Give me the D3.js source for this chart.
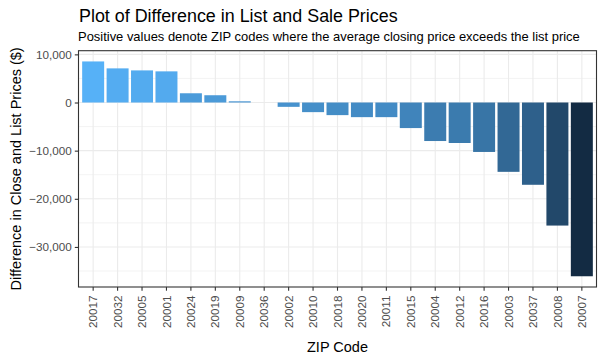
<!DOCTYPE html>
<html>
<head>
<meta charset="utf-8">
<script src="https://cdn.jsdelivr.net/npm/d3@7"></script>
<style>
body { margin: 0; background: #fff; }
svg { display: block; font-family: "Liberation Sans", Arial, sans-serif; }
</style>
</head>
<body>
<svg id="chart" width="604" height="357"></svg>
<script>
const zipCodes = ["20017","20032","20005","20001","20024","20019","20009","20036","20002","20010","20018","20020","20011","20015","20004","20012","20016","20003","20037","20008","20007"];
const priceDiff = [8530, 7090, 6670, 6470, 1920, 1510, 250, 0, -900, -2000, -2620, -3040, -3040, -5310, -8000, -8410, -10270, -14400, -17090, -25560, -36090];
const yMajorTicks = [10000, 0, -10000, -20000, -30000];
const yMinorTicks = [5000, -5000, -15000, -25000, -35000];
const titleText = "Plot of Difference in List and Sale Prices";
const subtitleText = "Positive values denote ZIP codes where the average closing price exceeds the list price";
const xTitle = "ZIP Code";
const yTitle = "Difference in Close and List Prices ($)";

const svg = d3.select("#chart");
const panel = {left: 78.5, right: 596.5, top: 50.7, bottom: 287};

const x = d3.scaleBand().domain(zipCodes)
  .range([panel.left, panel.right]).paddingInner(0.1).paddingOuter(0.15);

const minV = Math.min(0, d3.min(priceDiff)), maxV = Math.max(0, d3.max(priceDiff));
const pad = (maxV - minV) * 0.05;
const y = d3.scaleLinear().domain([minV - pad, maxV + pad]).range([panel.bottom, panel.top]);

const color = d3.scaleLinear().domain([d3.min(priceDiff), d3.max(priceDiff)])
  .range(["#132B43", "#56B1F7"]).interpolate(d3.interpolateLab);

// grid
const grid = svg.append("g");
grid.selectAll("line.ymin").data(yMinorTicks).join("line")
  .attr("x1", panel.left).attr("x2", panel.right)
  .attr("y1", d => y(d)).attr("y2", d => y(d))
  .attr("stroke", "#EBEBEB").attr("stroke-width", 0.6);
grid.selectAll("line.ymaj").data(yMajorTicks).join("line")
  .attr("x1", panel.left).attr("x2", panel.right)
  .attr("y1", d => y(d)).attr("y2", d => y(d))
  .attr("stroke", "#EBEBEB").attr("stroke-width", 1.1);
grid.selectAll("line.xmaj").data(zipCodes).join("line")
  .attr("y1", panel.top).attr("y2", panel.bottom)
  .attr("x1", d => x(d) + x.bandwidth() / 2).attr("x2", d => x(d) + x.bandwidth() / 2)
  .attr("stroke", "#EBEBEB").attr("stroke-width", 1.1);

// bars
svg.append("g").selectAll("rect").data(zipCodes).join("rect")
  .attr("x", d => x(d))
  .attr("width", x.bandwidth())
  .attr("y", (d, i) => y(Math.max(0, priceDiff[i])))
  .attr("height", (d, i) => Math.abs(y(priceDiff[i]) - y(0)))
  .attr("fill", (d, i) => color(priceDiff[i]));

// panel border
svg.append("rect").attr("x", panel.left).attr("y", panel.top)
  .attr("width", panel.right - panel.left).attr("height", panel.bottom - panel.top)
  .attr("fill", "none").attr("stroke", "#333333").attr("stroke-width", 1.1);

// y axis
const yAxis = d3.axisLeft(y).tickValues(yMajorTicks).tickSize(3.7).tickPadding(3)
  .tickFormat(d3.format(",d"));
const gy = svg.append("g").attr("transform", `translate(${panel.left},0)`).call(yAxis);
gy.select(".domain").remove();
gy.selectAll(".tick line").attr("stroke", "#333333").attr("stroke-width", 1.1);
gy.selectAll(".tick text").attr("fill", "#4D4D4D").attr("font-size", "11.7px")
  .attr("font-family", "Liberation Sans, Arial, sans-serif");

// x axis
const xAxis = d3.axisBottom(x).tickSize(3.7).tickPadding(3);
const gx = svg.append("g").attr("transform", `translate(0,${panel.bottom})`).call(xAxis);
gx.select(".domain").remove();
gx.selectAll(".tick line").attr("stroke", "#333333").attr("stroke-width", 1.1);
gx.selectAll(".tick text").attr("fill", "#4D4D4D").attr("font-size", "11.7px")
  .attr("font-family", "Liberation Sans, Arial, sans-serif")
  .attr("transform", "rotate(-90)")
  .attr("text-anchor", "end")
  .attr("x", -8.5).attr("y", 0).attr("dy", "0.35em");

// titles
function fitText(sel, target) {
  const w = sel.node().getComputedTextLength();
  const fs = parseFloat(sel.attr("font-size"));
  sel.attr("font-size", (fs * target / w) + "px");
}
const t = svg.append("text").attr("x", 79).attr("y", 21.5).attr("font-size", "17px")
  .attr("fill", "#000").text(titleText);
fitText(t, 319);
const st = svg.append("text").attr("x", 78).attr("y", 40.7).attr("font-size", "13px")
  .attr("fill", "#000").text(subtitleText);
fitText(st, 502);

svg.append("text").attr("x", (panel.left + panel.right) / 2).attr("y", 351.5)
  .attr("text-anchor", "middle").attr("font-size", "14.5px").attr("fill", "#000").text(xTitle);
svg.append("text")
  .attr("transform", `translate(21,${(panel.top + panel.bottom) / 2}) rotate(-90)`)
  .attr("text-anchor", "middle").attr("font-size", "14.5px").attr("fill", "#000").text(yTitle);
</script>
</body>
</html>
